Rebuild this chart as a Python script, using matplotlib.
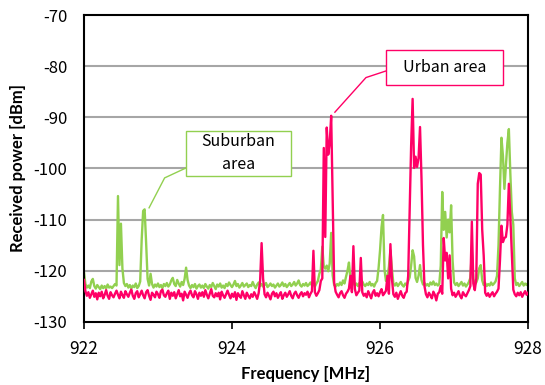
import numpy as np
import matplotlib
matplotlib.use("Agg")
import matplotlib.pyplot as plt
from matplotlib.patches import Rectangle

# frequency grid: 922.00 .. 928.00 MHz, 0.02 MHz step
freq = np.round(922 + 0.02 * np.arange(301), 2)

# received power [dBm], suburban area (rows of 10 samples = 0.2 MHz)
suburban = [
    -120.2, -122.6, -123.3, -122.9, -123.4, -122.1, -121.6, -123.0, -123.5, -122.8,
    -123.2, -123.6, -122.9, -123.4, -123.0, -123.5, -122.7, -123.3, -123.1, -123.4,
    -123.0, -122.6, -122.9, -105.4, -118.9, -110.8, -119.6, -122.4, -123.0, -122.6,
    -123.3, -122.8, -123.5, -122.9, -123.2, -122.5, -123.4, -123.0, -122.1, -114.0,
    -108.3, -108.0, -114.5, -121.6, -122.9, -120.6, -122.6, -123.3, -122.7, -123.1,
    -122.5, -123.2, -122.8, -123.4, -122.6, -123.0, -122.4, -123.1, -122.7, -121.9,
    -121.4, -122.6, -123.0, -121.8, -122.5, -123.1, -122.2, -122.8, -121.6, -119.4,
    -121.8, -122.9, -123.4, -122.8, -123.2, -122.6, -123.5, -123.0, -122.7, -123.3,
    -122.9, -123.4, -122.6, -123.1, -123.5, -122.8, -123.2, -122.4, -123.0, -123.6,
    -122.7, -123.1, -122.5, -123.3, -122.9, -123.4, -122.6, -123.0, -122.3, -122.8,
    -123.2, -122.7, -122.0, -123.0, -122.6, -123.3, -122.9, -122.4, -123.1, -122.8,
    -122.5, -123.2, -122.8, -123.0, -122.2, -122.9, -123.4, -122.7, -122.3, -123.0,
    -122.6, -123.1, -122.8, -122.4, -123.2, -122.9, -122.5, -123.0, -122.7, -123.3,
    -122.9, -122.5, -123.1, -122.8, -122.3, -123.0, -122.6, -123.2, -122.8, -122.4,
    -123.0, -122.7, -122.2, -122.9, -122.5, -121.9, -122.8, -123.1, -122.6, -122.9,
    -122.4, -123.0, -122.7, -122.3, -122.9, -122.6, -123.1, -122.5, -122.0, -120.6,
    -119.8, -115.3, -119.2, -119.6, -119.0, -120.1, -118.6, -112.6, -120.9, -122.8,
    -123.1, -122.6, -122.9, -122.3, -122.8, -121.9, -122.5, -121.2, -120.0, -118.4,
    -121.6, -122.7, -122.2, -122.9, -122.5, -123.0, -122.4, -122.8, -122.1, -122.7,
    -123.0, -122.5, -122.8, -122.2, -122.9, -122.6, -123.1, -122.4, -122.0, -119.5,
    -116.0, -111.5, -109.1, -119.8, -122.0, -121.2, -119.2, -116.0, -119.6, -122.5,
    -122.9, -122.4, -123.0, -122.6, -122.2, -122.8, -123.1, -122.5, -122.8, -122.0,
    -121.3, -119.0, -116.0, -117.2, -121.4, -122.2, -121.0, -118.9, -121.8, -122.7,
    -122.4, -122.9, -122.6, -123.0, -122.3, -122.7, -122.1, -122.8, -122.5, -122.9,
    -122.6, -119.0, -104.6, -112.0, -108.5, -113.5, -110.0, -112.5, -107.2, -118.0,
    -122.3, -122.8, -122.4, -123.0, -122.6, -122.2, -122.9, -122.5, -123.1, -122.7,
    -122.2, -121.4, -116.3, -121.6, -122.7, -122.3, -121.5, -119.5, -118.9, -121.9,
    -122.8, -122.4, -123.0, -122.6, -122.9, -122.3, -122.8, -122.5, -122.1, -121.0,
    -115.0, -104.0, -94.0, -97.5, -104.0, -99.5, -95.0, -92.3, -101.0, -108.5,
    -111.0, -121.5, -122.8, -122.4, -123.0, -122.6, -122.2, -122.9, -122.5, -122.8,
    -122.4,
]

# received power [dBm], urban area
urban = [
    -121.8, -124.0, -124.9, -124.2, -125.3, -124.6, -123.9, -125.1, -124.4, -125.6,
    -124.3, -125.0, -124.1, -125.4, -124.7, -123.8, -124.9, -125.5, -124.2, -124.8,
    -125.2, -124.5, -123.9, -124.7, -125.4, -124.1, -124.8, -125.3, -124.0, -124.6,
    -125.1, -124.3, -123.7, -124.9, -125.5, -124.4, -124.0, -125.2, -124.6, -123.9,
    -124.8, -125.4, -124.2, -123.8, -124.9, -125.7, -124.3, -124.7, -125.2, -124.1,
    -124.6, -125.3, -124.0, -123.7, -124.8, -125.1, -124.4, -123.9, -125.5, -124.3,
    -124.9, -124.2, -125.4, -124.6, -123.8, -125.0, -124.5, -125.8, -124.1, -124.7,
    -125.3, -124.4, -123.9, -124.8, -125.2, -124.0, -124.6, -125.5, -124.3, -124.9,
    -124.2, -125.1, -123.8, -124.7, -125.4, -124.5, -123.6, -124.9, -125.2, -124.4,
    -125.0, -124.3, -125.6, -124.1, -124.8, -125.3, -124.6, -123.9, -124.7, -125.4,
    -124.5, -125.1, -124.2, -125.7, -124.4, -124.9, -125.3, -124.0, -124.8, -125.5,
    -124.3, -124.9, -125.4, -124.6, -125.1, -124.2, -124.8, -125.5, -124.4, -122.0,
    -114.6, -121.5, -124.6, -125.2, -124.3, -124.9, -125.6, -124.5, -124.1, -125.0,
    -124.4, -125.3, -124.7, -124.2, -125.5, -124.8, -124.3, -125.1, -124.6, -124.0,
    -124.9, -125.4, -124.5, -124.1, -124.8, -125.3, -124.6, -124.2, -125.0, -124.4,
    -124.7, -124.1, -125.2, -124.5, -124.0, -116.1, -124.2, -124.9, -124.4, -123.8,
    -122.0, -121.5, -96.0, -113.4, -92.0, -97.3, -95.0, -89.7, -106.0, -122.3,
    -124.1, -124.7, -125.2, -124.4, -124.0, -124.8, -125.3, -124.5, -124.1, -123.5,
    -121.0, -124.2, -115.2, -123.6, -124.8, -124.3, -123.9, -117.5, -124.2, -124.9,
    -124.5, -125.2, -124.0, -124.7, -125.4, -124.3, -123.8, -124.9, -124.4, -125.0,
    -124.2, -123.6, -124.8, -124.4, -123.9, -121.0, -124.5, -114.8, -121.5, -124.6,
    -125.1, -124.3, -125.5, -124.7, -124.0, -124.9, -125.3, -124.4, -124.1, -121.0,
    -108.0, -95.5, -86.4, -99.9, -97.7, -99.7, -98.0, -91.9, -102.0, -115.0,
    -123.0, -124.6, -125.2, -124.3, -124.8, -125.4, -124.1, -124.7, -125.8, -124.5,
    -124.2, -123.0, -124.5, -113.6, -118.0, -116.5, -121.5, -117.0, -123.5, -124.8,
    -124.3, -125.1, -124.6, -124.0, -124.9, -125.4, -124.2, -124.7, -125.0, -124.4,
    -123.8, -123.0, -110.4, -122.5, -123.8, -121.5, -103.0, -100.9, -101.2, -112.0,
    -117.0, -124.3, -124.9, -124.4, -125.1, -124.6, -124.2, -125.0, -124.5, -124.1,
    -123.5, -118.0, -111.2, -114.4, -113.6, -113.4, -111.0, -103.0, -109.5, -116.5,
    -123.7, -124.6, -125.0, -124.3, -124.8, -124.2, -125.1, -124.5, -124.0, -124.7,
    -124.3,
]

x_ticks = [922, 924, 926, 928]
y_ticks = [-130, -120, -110, -100, -90, -80, -70]

pink = "#FF0066"
green = "#92D050"
tick_font = ["Noto Sans CJK JP", "DejaVu Sans"]

fig = plt.figure(figsize=(5.45, 3.85), dpi=100)
ax = fig.add_axes([0.154, 0.164, 0.815, 0.797])

for y in y_ticks[1:-1]:
    ax.axhline(y, color="#A6A6A6", lw=1.5, zorder=1)

ax.plot(freq, suburban, color=green, lw=1.7, zorder=2)
ax.plot(freq, urban, color=pink, lw=1.7, zorder=3)

ax.set_xlim(922, 928)
ax.set_ylim(-130, -70)
ax.set_xticks(x_ticks)
ax.set_yticks(y_ticks)
ax.set_xticklabels([str(v) for v in x_ticks], fontsize=12.5, family=tick_font)
ax.set_yticklabels([str(v) for v in y_ticks], fontsize=12, family=tick_font)
ax.tick_params(axis="x", direction="out", length=5, width=1.2, pad=8)
ax.tick_params(axis="y", length=0, pad=12)
for s in ax.spines.values():
    s.set_linewidth(1.5)
    s.set_color("black")

ax.set_xlabel("Frequency [MHz]", fontsize=12, fontweight="bold", family="Lato", labelpad=6)
ax.set_ylabel("Received power [dBm]", fontsize=12, fontweight="bold", family="Lato", labelpad=5)

# callout: urban
ax.add_patch(Rectangle((926.08, -83.68), 1.58, 6.84, fill=True, facecolor="white",
                       edgecolor=pink, lw=1.0, zorder=5, clip_on=False))
ax.text(926.87, -80.3, "Urban area", ha="center", va="center", fontsize=11.5,
        family=tick_font, zorder=6)
ax.plot([926.08, 925.81, 925.39], [-80.94, -82.23, -89.0], color=pink, lw=1.0, zorder=5)

# callout: suburban
ax.add_patch(Rectangle((923.38, -101.46), 1.42, 8.79, fill=True, facecolor="white",
                       edgecolor=green, lw=1.0, zorder=5))
ax.text(924.09, -97.0, "Suburban\narea", ha="center", va="center", fontsize=11.5,
        family=tick_font, linespacing=1.4, zorder=6)
ax.plot([923.38, 923.09, 922.88], [-99.9, -101.85, -107.7], color=green, lw=1.0, zorder=5)

fig.savefig("out.png", dpi=100)
